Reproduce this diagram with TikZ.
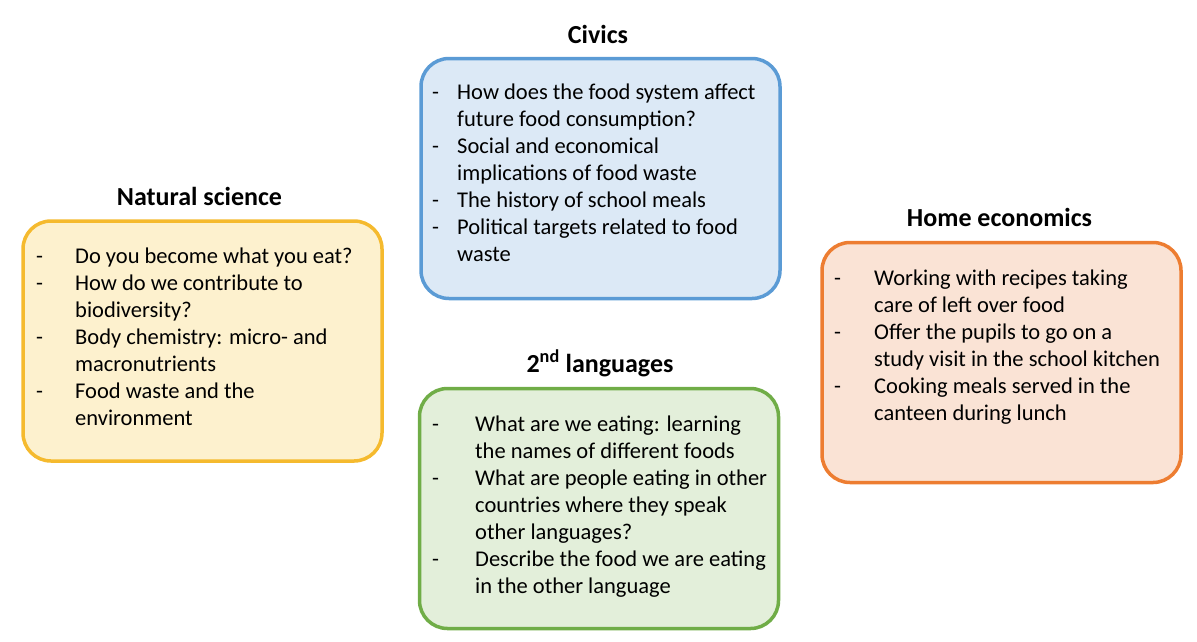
\documentclass[tikz,border=0pt]{standalone}
\usepackage{fontspec}
\setmainfont{Carlito}

\definecolor{natline}{HTML}{F5BA2E}
\definecolor{natfill}{HTML}{FDF1CE}
\definecolor{civline}{HTML}{5B9BD5}
\definecolor{civfill}{HTML}{DCE9F6}
\definecolor{lanline}{HTML}{70AD47}
\definecolor{lanfill}{HTML}{E3EFDA}
\definecolor{homline}{HTML}{ED7D31}
\definecolor{homfill}{HTML}{FAE3D5}

\newcommand{\bodysize}{\fontsize{22.5}{27}\selectfont}
\newcommand{\headsize}{\fontsize{26}{30}\selectfont}

\begin{document}
\begin{tikzpicture}[x=1pt,y=-1pt,
  box/.style 2 args={draw=#1,fill=#2,line width=3.5pt,rounded corners=28pt,
    minimum width=359pt,minimum height=240pt,inner sep=0pt},
  head/.style={anchor=base,inner sep=0pt,font=\headsize\bfseries},
  items/.style={anchor=north west,inner sep=0pt,font=\bodysize}]
\useasboundingbox (0,0) rectangle (1197,641);

% Natural science
\node[box={natline}{natfill}] (nat) at (202.5,341) {};
\node[head] (nat-t) at (199.5,205) {Natural science};
\node[items] (nat-l) at (36,244) {\begin{tabular}{@{}p{39pt}@{}l@{}}
- & Do you become what you eat?\\
- & How do we contribute to\\
  & biodiversity?\\
- & Body chemistry: micro- and\\
  & macronutrients\\
- & Food waste and the\\
  & environment
\end{tabular}};

% Civics
\node[box={civline}{civfill}] (civ) at (600.5,178.5) {};
\node[head] (civ-t) at (598,43) {Civics};
\node[items] (civ-l) at (432,80) {\begin{tabular}{@{}p{25pt}@{}l@{}}
- & How does the food system affect\\
  & future food consumption?\\
- & Social and economical\\
  & implications of food waste\\
- & The history of school meals\\
- & Political targets related to food\\
  & waste
\end{tabular}};

% 2nd languages
\node[box={lanline}{lanfill}] (lan) at (599,508.5) {};
\node[head] (lan-t) at (600,372) {2\textsuperscript{nd} languages};
\node[items] (lan-l) at (432,412) {\begin{tabular}{@{}p{43pt}@{}l@{}}
- & What are we eating: learning\\
  & the names of different foods\\
- & What are people eating in other\\
  & countries where they speak\\
  & other languages?\\
- & Describe the food we are eating\\
  & in the other language
\end{tabular}};

% Home economics
\node[box={homline}{homfill}] (hom) at (1001.5,362.5) {};
\node[head] (hom-t) at (999.5,226) {Home economics};
\node[items] (hom-l) at (834,266) {\begin{tabular}{@{}p{40pt}@{}l@{}}
- & Working with recipes taking\\
  & care of left over food\\
- & Offer the pupils to go on a\\
  & study visit in the school kitchen\\
- & Cooking meals served in the\\
  & canteen during lunch
\end{tabular}};
\end{tikzpicture}
\end{document}
